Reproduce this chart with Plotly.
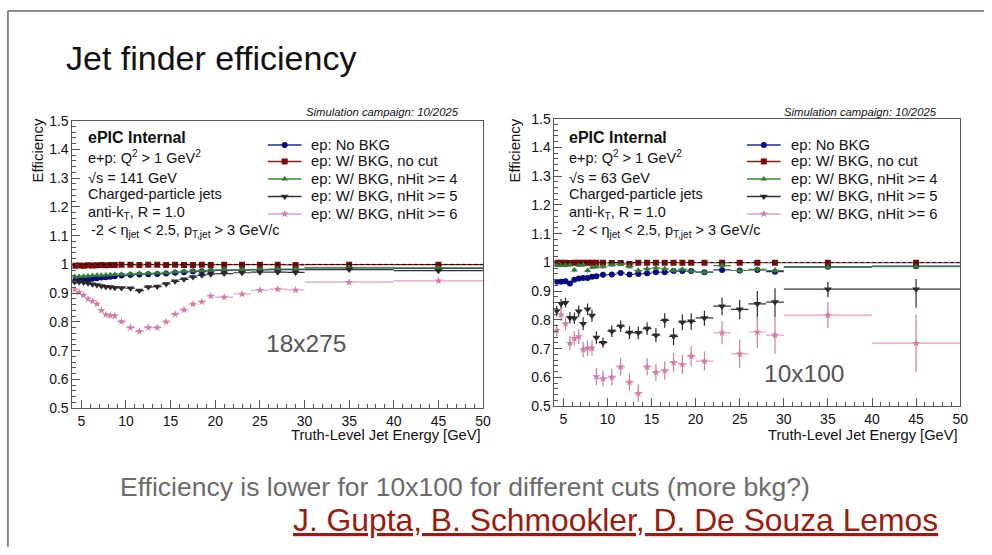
import plotly.graph_objects as go

# ---------------- data ----------------
bin_centers = [4.25, 4.75, 5.25, 5.75, 6.25, 6.75, 7.25, 7.75, 8.25, 8.75,
               9.5, 10.5, 11.5, 12.5, 13.5, 14.5, 15.5, 16.5, 17.5, 18.5, 19.5,
               21, 23, 25, 27, 29, 35, 45]
bin_halfwidths = [0.25, 0.25, 0.25, 0.25, 0.25, 0.25, 0.25, 0.25, 0.25, 0.25,
                  0.5, 0.5, 0.5, 0.5, 0.5, 0.5, 0.5, 0.5, 0.5, 0.5, 0.5,
                  1, 1, 1, 1, 1, 5, 5]

series_names = ["ep: No BKG", "ep: W/ BKG, no cut", "ep: W/ BKG, nHit >= 4",
                "ep: W/ BKG, nHit >= 5", "ep: W/ BKG, nHit >= 6"]

# 18x275 (sqrt(s) = 141 GeV)
eff18_nobkg = [0.942, 0.944, 0.946, 0.947, 0.950, 0.952, 0.954, 0.955, 0.957, 0.959,
               0.961, 0.963, 0.965, 0.966, 0.967, 0.968, 0.971, 0.973, 0.975, 0.976, 0.977,
               0.979, 0.980, 0.981, 0.982, 0.982, 0.988, 0.986]
eff18_nocut = [0.995, 0.996, 0.995, 0.997, 0.996, 0.997, 0.998, 0.997, 0.998, 0.998,
               0.999, 0.999, 0.998, 0.999, 0.999, 0.998, 0.999, 0.998, 0.998, 0.999, 0.998,
               0.999, 0.999, 0.999, 0.999, 0.998, 0.999, 0.999]
eff18_nhit4 = [0.958, 0.958, 0.959, 0.960, 0.961, 0.962, 0.962, 0.963, 0.964, 0.965,
               0.966, 0.967, 0.968, 0.969, 0.970, 0.971, 0.974, 0.976, 0.977, 0.978, 0.980,
               0.981, 0.982, 0.983, 0.984, 0.984, 0.989, 0.988]
eff18_nhit5 = [0.940, 0.939, 0.937, 0.934, 0.931, 0.928, 0.925, 0.922, 0.921, 0.919,
               0.918, 0.917, 0.909, 0.921, 0.923, 0.932, 0.941, 0.948, 0.956, 0.962, 0.966,
               0.968, 0.971, 0.973, 0.973, 0.972, 0.982, 0.978]
eff18_nhit6 = [0.912, 0.903, 0.893, 0.880, 0.872, 0.862, 0.840, 0.825, 0.822, 0.821,
               0.801, 0.780, 0.767, 0.780, 0.780, 0.800, 0.827, 0.842, 0.862, 0.870, 0.890,
               0.886, 0.897, 0.910, 0.914, 0.911, 0.938, 0.943]
err18 = [0.002, 0.001, 0.003, 0.004, 0.004]

# 10x100 (sqrt(s) = 63 GeV)
eff10_nobkg = [0.933, 0.933, 0.935, 0.927, 0.940, 0.944, 0.946, 0.946, 0.950, 0.952,
               0.957, 0.958, 0.963, 0.958, 0.960, 0.962, 0.966, 0.966, 0.970, 0.970, 0.970,
               0.966, 0.974, 0.972, 0.974, 0.968, 0.985, 0.987]
eff10_nocut = [0.999, 0.999, 0.999, 0.998, 0.999, 0.999, 0.999, 0.999, 0.999, 0.999,
               0.999, 0.998, 0.998, 0.995, 0.999, 0.999, 0.999, 0.999, 0.999, 0.999, 0.999,
               0.999, 0.999, 0.999, 0.999, 0.999, 0.999, 0.999]
eff10_nhit4 = [0.989, 0.989, 0.989, 0.991, 0.974, 0.990, 0.991, 0.972, 0.983, 0.985,
               0.985, 0.991, 0.993, 0.985, 0.972, 0.978, 0.981, 0.978, 0.972, 0.976, 0.970,
               0.966, 0.989, 0.972, 0.976, 0.972, 0.983, 0.985]
eff10_nhit5 = [0.831, 0.856, 0.860, 0.808, 0.806, 0.830, 0.787, 0.837, 0.815, 0.739,
               0.721, 0.761, 0.778, 0.756, 0.755, 0.770, 0.747, 0.798, 0.743, 0.792, 0.795,
               0.807, 0.848, 0.837, 0.856, 0.862, 0.907, 0.907]
eff10_nhit6 = [0.764, 0.818, 0.787, 0.719, 0.736, 0.742, 0.697, 0.702, 0.702, 0.603,
               0.596, 0.601, 0.637, 0.584, 0.545, 0.637, 0.618, 0.624, 0.652, 0.646, 0.674,
               0.657, 0.755, 0.682, 0.758, 0.747, 0.817, 0.719]
err10_nobkg = [0.005, 0.005, 0.005, 0.005, 0.005, 0.005, 0.005, 0.005, 0.005, 0.005,
               0.004, 0.004, 0.004, 0.004, 0.004, 0.004, 0.004, 0.004, 0.004, 0.004, 0.004,
               0.004, 0.005, 0.005, 0.006, 0.006, 0.004, 0.005]
err10_nocut = [0.001] * 28
err10_nhit4 = [0.006, 0.006, 0.006, 0.006, 0.008, 0.006, 0.006, 0.008, 0.007, 0.007,
               0.007, 0.006, 0.006, 0.007, 0.009, 0.008, 0.008, 0.008, 0.009, 0.009, 0.009,
               0.009, 0.007, 0.010, 0.010, 0.010, 0.007, 0.008]
err10_nhit5_up = [0.018, 0.017, 0.017, 0.020, 0.020, 0.020, 0.022, 0.020, 0.021, 0.022,
                  0.018, 0.020, 0.020, 0.022, 0.022, 0.022, 0.025, 0.025, 0.028, 0.027, 0.028,
                  0.025, 0.030, 0.033, 0.045, 0.048, 0.025, 0.035]
err10_nhit5_dn = [0.018, 0.017, 0.017, 0.020, 0.020, 0.020, 0.022, 0.020, 0.021, 0.022,
                  0.018, 0.020, 0.020, 0.022, 0.022, 0.022, 0.025, 0.025, 0.030, 0.028, 0.030,
                  0.027, 0.032, 0.035, 0.050, 0.052, 0.028, 0.065]
err10_nhit6_up = [0.022, 0.022, 0.022, 0.025, 0.025, 0.025, 0.027, 0.027, 0.027, 0.030,
                  0.028, 0.030, 0.030, 0.030, 0.030, 0.030, 0.030, 0.032, 0.033, 0.033, 0.035,
                  0.033, 0.040, 0.050, 0.055, 0.065, 0.045, 0.100]
err10_nhit6_dn = [0.022, 0.022, 0.022, 0.025, 0.025, 0.025, 0.027, 0.027, 0.027, 0.030,
                  0.028, 0.030, 0.030, 0.030, 0.030, 0.030, 0.030, 0.032, 0.033, 0.033, 0.035,
                  0.033, 0.040, 0.050, 0.055, 0.065, 0.045, 0.100]

y_tick_vals = [0.5, 0.6, 0.7, 0.8, 0.9, 1.0, 1.1, 1.2, 1.3, 1.4, 1.5]
y_tick_text = ["0.5", "0.6", "0.7", "0.8", "0.9", "1", "1.1", "1.2", "1.3", "1.4", "1.5"]
x_tick_vals = [5, 10, 15, 20, 25, 30, 35, 40, 45, 50]

# ---------------- styles ----------------
W, H = 992, 555
FONT = "Liberation Sans, Arial, Helvetica, sans-serif"
colors = ["#0a0a80", "#7a0c0c", "#2f7f2f", "#2a2a2a", "#d27aa8"]
line_colors = ["#1f2a9a", "#8a1a1a", "#3a8a3a", "#333333", "#e59cc4"]
symbols = ["circle", "square", "triangle-up", "triangle-down", "star"]
sizes = [6, 6, 6, 7, 6]


def px(x):
    return x / W


def py(y):
    return 1 - y / H


fig = go.Figure()

panels = [
    dict(xa="x", ya="y",
         eff=[eff18_nobkg, eff18_nocut, eff18_nhit4, eff18_nhit5, eff18_nhit6],
         eup=[[e] * 28 for e in err18], edn=[[e] * 28 for e in err18]),
    dict(xa="x2", ya="y2",
         eff=[eff10_nobkg, eff10_nocut, eff10_nhit4, eff10_nhit5, eff10_nhit6],
         eup=[err10_nobkg, err10_nocut, err10_nhit4, err10_nhit5_up, err10_nhit6_up],
         edn=[err10_nobkg, err10_nocut, err10_nhit4, err10_nhit5_dn, err10_nhit6_dn]),
]

for p in panels:
    for i in range(5):
        fig.add_trace(go.Scatter(
            x=bin_centers, y=p["eff"][i], mode="markers", name=series_names[i],
            xaxis=p["xa"], yaxis=p["ya"], showlegend=False,
            marker=dict(symbol=symbols[i], size=sizes[i], color=colors[i]),
            error_x=dict(type="data", array=bin_halfwidths, width=0,
                         color=line_colors[i], thickness=1.2),
            error_y=dict(type="data", array=p["eup"][i], arrayminus=p["edn"][i],
                         symmetric=False, width=0, color=colors[i], thickness=1.2),
        ))

# ---- legend keys drawn on a transparent pixel-space overlay axis ----
legend_rows = [141, 158, 176, 194, 212]
for (lx0, lx1) in [(270, 304), (753, 787)]:
    for i in range(5):
        fig.add_trace(go.Scatter(
            x=[lx0, lx1], y=[legend_rows[i]] * 2, mode="lines", xaxis="x3", yaxis="y3",
            showlegend=False, hoverinfo="skip", line=dict(color=line_colors[i], width=1.5)))
        fig.add_trace(go.Scatter(
            x=[(lx0 + lx1) / 2], y=[legend_rows[i]], mode="markers", xaxis="x3", yaxis="y3",
            showlegend=False, hoverinfo="skip",
            marker=dict(symbol=symbols[i], size=sizes[i], color=colors[i])))

axis_common = dict(showline=True, linecolor="#555", linewidth=1, mirror=True,
                   showgrid=False, zeroline=False, ticks="inside",
                   tickcolor="#555", tickfont=dict(size=14, family=FONT, color="#111"))

xdom1 = [px(73), px(487)]
xdom2 = [px(559), px(968)]
ydom1 = [py(412), py(116)]
ydom2 = [py(410), py(114)]

for name, dom, anchor in [("xaxis", xdom1, "y"), ("xaxis2", xdom2, "y2")]:
    fig.layout[name] = dict(axis_common, domain=dom, anchor=anchor, range=[4, 50],
                            tickvals=x_tick_vals, ticklen=8,
                            minor=dict(dtick=1, tick0=0, ticklen=4, ticks="inside",
                                       tickcolor="#555"))
for name, dom, anchor in [("yaxis", ydom1, "x"), ("yaxis2", ydom2, "x2")]:
    fig.layout[name] = dict(axis_common, domain=dom, anchor=anchor, range=[0.5, 1.5],
                            tickvals=y_tick_vals, ticktext=y_tick_text, ticklen=8,
                            minor=dict(dtick=0.02, tick0=0, ticklen=4, ticks="inside",
                                       tickcolor="#555"))
fig.layout["xaxis3"] = dict(domain=[0, 1], range=[0, W], visible=False, anchor="y3",
                            fixedrange=True)
fig.layout["yaxis3"] = dict(domain=[0, 1], range=[H, 0], visible=False, anchor="x3",
                            fixedrange=True)

# dotted unity lines
for xa, ya in [("x", "y"), ("x2", "y2")]:
    fig.add_shape(type="line", xref=xa, yref=ya, x0=4, x1=50, y0=1, y1=1,
                  line=dict(color="black", width=1, dash="dot"))

ann = []


def text(x, y, s, size=15, color="#111", xanchor="left", yanchor="middle", **kw):
    ann.append(dict(x=px(x), y=py(y), xref="paper", yref="paper", text=s,
                    showarrow=False, xanchor=xanchor, yanchor=yanchor,
                    font=dict(size=size, family=FONT, color=color), **kw))


for x0, ss, sim_x, leg_x in [(87, "141", 465, 312), (572, "63", 947, 795)]:
    text(sim_x, 107, "<i>Simulation campaign: 10/2025</i>", size=11.3, xanchor="right")
    text(x0, 133, "<b>ePIC Internal</b>", size=16)
    text(x0, 153, "e+p: Q<sup>2</sup> &gt; 1 GeV<sup>2</sup>", size=14.5)
    text(x0, 175, "√s = " + ss + " GeV", size=14.5)
    text(x0, 192, "Charged-particle jets", size=14.5)
    text(x0, 211, "anti-k<sub>T</sub>, R = 1.0", size=14.5)
    text(x0 + 3, 230, "-2 &lt; η<sub>jet</sub> &lt; 2.5, p<sub>T,jet</sub> &gt; 3 GeV/c", size=14.5)
    for i in range(5):
        text(leg_x, legend_rows[i], series_names[i].replace(">", "&gt;"), size=14.8)

text(38, 112, "Efficiency", size=15, xanchor="center", yanchor="top", textangle=-90)
text(519, 112, "Efficiency", size=15, xanchor="center", yanchor="top", textangle=-90)
text(487, 440, "Truth-Level Jet Energy [GeV]", size=14.7, xanchor="right")
text(968, 440, "Truth-Level Jet Energy [GeV]", size=14.7, xanchor="right")
text(308, 345, "18x275", size=24.5, color="#555", xanchor="center")
text(811, 376, "10x100", size=24.5, color="#555", xanchor="center")

text(65, 51, "Jet finder efficiency", size=34, color="#111")
text(469, 493, "Efficiency is lower for 10x100 for different cuts (more bkg?)",
     size=26.5, color="#6b6b6b", xanchor="center")
text(621, 527, "<u>J. Gupta, B. Schmookler, D. De Souza Lemos</u>", size=31.8,
     color="#9c1a10", xanchor="center")

fig.update_layout(annotations=ann)

# slide frame (left and top edges)
fig.add_shape(type="line", xref="paper", yref="paper", x0=px(8), x1=px(8), y0=0, y1=py(3),
              line=dict(color="#666", width=1.5))
fig.add_shape(type="line", xref="paper", yref="paper", x0=px(8), x1=1, y0=py(3), y1=py(3),
              line=dict(color="#666", width=1.5))

fig.update_layout(width=W, height=H, margin=dict(l=0, r=0, t=0, b=0),
                  paper_bgcolor="white", plot_bgcolor="rgba(0,0,0,0)", showlegend=False,
                  hovermode=False, font=dict(family=FONT))

fig.write_html("out.html", config={"displayModeBar": False, "staticPlot": True},
               post_script="document.body.style.margin='0px';")
